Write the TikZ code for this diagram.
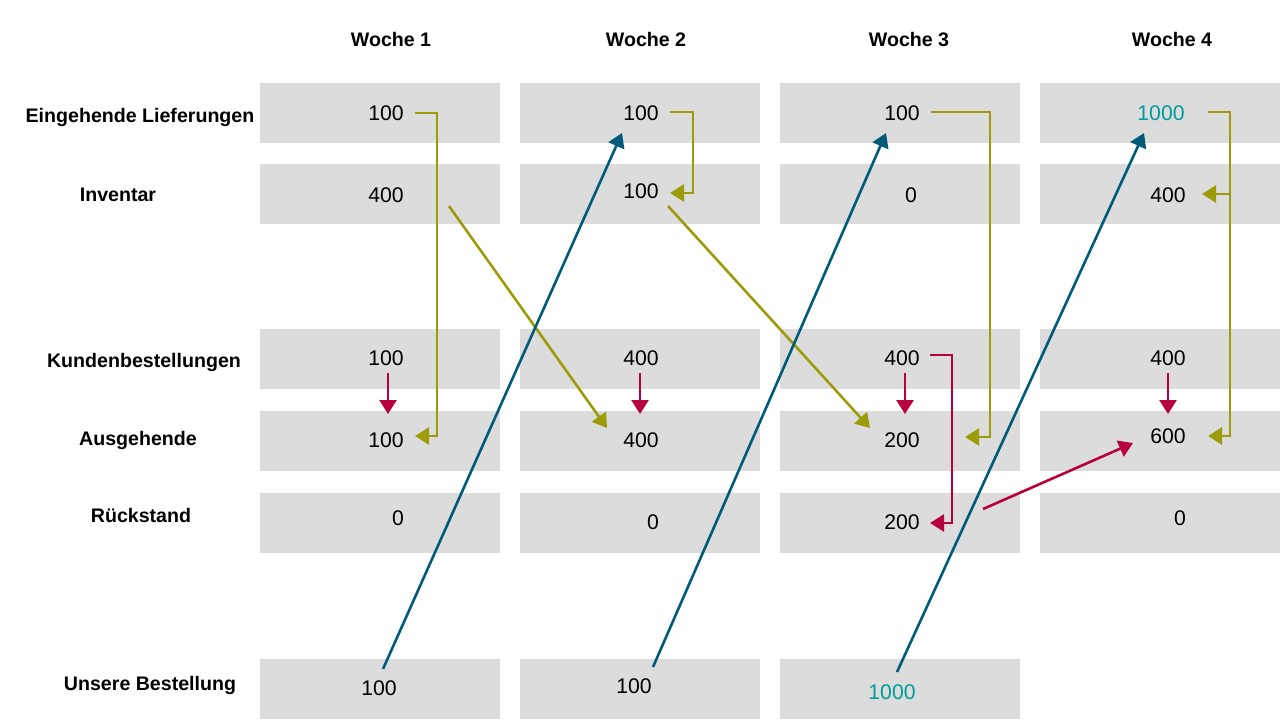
\documentclass[tikz,border=0pt]{standalone}
\usepackage{fontspec}
\setmainfont{Liberation Sans}
\usetikzlibrary{arrows.meta}
\definecolor{boxgray}{HTML}{DCDCDC}
\definecolor{olivec}{HTML}{9C9C0A}
\definecolor{crim}{HTML}{B8003F}
\definecolor{petrol}{HTML}{005A78}
\definecolor{tealnum}{HTML}{009C9C}
\begin{document}
\begin{tikzpicture}[x=0.5pt,y=-0.5pt,
 cell/.style={fill=boxgray, draw=none, minimum width=120pt, minimum height=30pt, inner sep=0pt},
 num/.style={font=\fontsize{10.6}{12}\selectfont, inner sep=0pt},
 tnum/.style={num, text=tealnum},
 lab/.style={font=\bfseries\fontsize{9.8}{12}\selectfont, inner sep=0pt},
 tipa/.style={-{Triangle[length=7pt,width=8.5pt]}},
 ol/.style={draw=olivec, line width=1.3pt, tipa, line join=miter},
 cr/.style={draw=crim, line width=1.3pt, tipa, line join=miter},
 pe/.style={draw=petrol, line width=1.3pt, tipa}
]
\useasboundingbox (0,0) rectangle (1280,720);
% boxes
\foreach \c/\x in {1/380,2/640,3/900,4/1160}{
  \foreach \r/\y in {1/113,2/194,3/359,4/441,5/523}{
    \node[cell] (b\r\c) at (\x,\y) {};
  }
}
\foreach \c/\x in {1/380,2/640,3/900}{
  \node[cell] (b6\c) at (\x,689) {};
}
% headers
\node[lab] (h1) at (391,39) {Woche 1};
\node[lab] (h2) at (646,39) {Woche 2};
\node[lab] (h3) at (909,39) {Woche 3};
\node[lab] (h4) at (1172,39) {Woche 4};
% row labels
\node[lab] (l1) at (140,117) {Eingehende Lieferungen};
\node[lab] (l2) at (118,195) {Inventar};
\node[lab] (l3) at (144,362) {Kundenbestellungen};
\node[lab] (l4) at (138,440) {Ausgehende};
\node[lab] (l5) at (141,515) {Rückstand};
\node[lab] (l6) at (150,685) {Unsere Bestellung};
% numbers col 1
\node[num] (n11) at (386,113) {100};
\node[num] (n21) at (386,195) {400};
\node[num] (n31) at (386,358) {100};
\node[num] (n41) at (386,440) {100};
\node[num] (n51) at (398,518) {0};
\node[num] (n61) at (379,688) {100};
% col 2
\node[num] (n12) at (641,113) {100};
\node[num] (n22) at (641,191) {100};
\node[num] (n32) at (641,358) {400};
\node[num] (n42) at (641,440) {400};
\node[num] (n52) at (653,522) {0};
\node[num] (n62) at (634,686) {100};
% col 3
\node[num] (n13) at (902,113) {100};
\node[num] (n23) at (911,195) {0};
\node[num] (n33) at (902,358) {400};
\node[num] (n43) at (902,440) {200};
\node[num] (n53) at (902,522) {200};
\node[tnum] (n63) at (892,692) {1000};
% col 4
\node[tnum] (n14) at (1161,113) {1000};
\node[num] (n24) at (1168,195) {400};
\node[num] (n34) at (1168,358) {400};
\node[num] (n44) at (1168,436) {600};
\node[num] (n54) at (1180,518) {0};
% coordinates
\coordinate (a1) at (415,113); \coordinate (a2) at (437,436); \coordinate (a3) at (415,436);
\coordinate (a4) at (449,206); \coordinate (a5) at (607,428);
\coordinate (b1) at (670,112); \coordinate (b2) at (693,193); \coordinate (b3) at (670,193);
\coordinate (b4) at (668,206); \coordinate (b5) at (870,428);
\coordinate (c1) at (931,112); \coordinate (c2) at (990,437); \coordinate (c3) at (965,437);
\coordinate (d1) at (1208,112); \coordinate (d2) at (1230,436); \coordinate (d3) at (1208,436);
\coordinate (d4) at (1230,194); \coordinate (d5) at (1202,194);
\coordinate (k1s) at (388,373); \coordinate (k1e) at (388,414);
\coordinate (k2s) at (640,373); \coordinate (k2e) at (640,414);
\coordinate (k3s) at (905,373); \coordinate (k3e) at (905,414);
\coordinate (k4s) at (1168,373); \coordinate (k4e) at (1168,414);
\coordinate (r1) at (930,355); \coordinate (r2) at (952,523); \coordinate (r3) at (930,523);
\coordinate (r4) at (983,509); \coordinate (r5) at (1133,443);
\coordinate (p1s) at (383,669); \coordinate (p1e) at (622,133);
\coordinate (p2s) at (653,667); \coordinate (p2e) at (886,133);
\coordinate (p3s) at (897,672); \coordinate (p3e) at (1144,133);
% olive
\draw[ol] (a1) -| (a2) -- (a3);
\draw[ol] (a4) -- (a5);
\draw[ol] (b1) -| (b2) -- (b3);
\draw[ol] (b4) -- (b5);
\draw[ol] (c1) -| (c2) -- (c3);
\draw[ol] (d1) -| (d2) -- (d3);
\draw[ol] (d4) -- (d5);
% crimson
\draw[cr] (k1s) -- (k1e);
\draw[cr] (k2s) -- (k2e);
\draw[cr] (k3s) -- (k3e);
\draw[cr] (k4s) -- (k4e);
\draw[cr] (r1) -| (r2) -- (r3);
\draw[cr] (r4) -- (r5);
% petrol
\draw[pe] (p1s) -- (p1e);
\draw[pe] (p2s) -- (p2e);
\draw[pe] (p3s) -- (p3e);
\end{tikzpicture}
\end{document}
